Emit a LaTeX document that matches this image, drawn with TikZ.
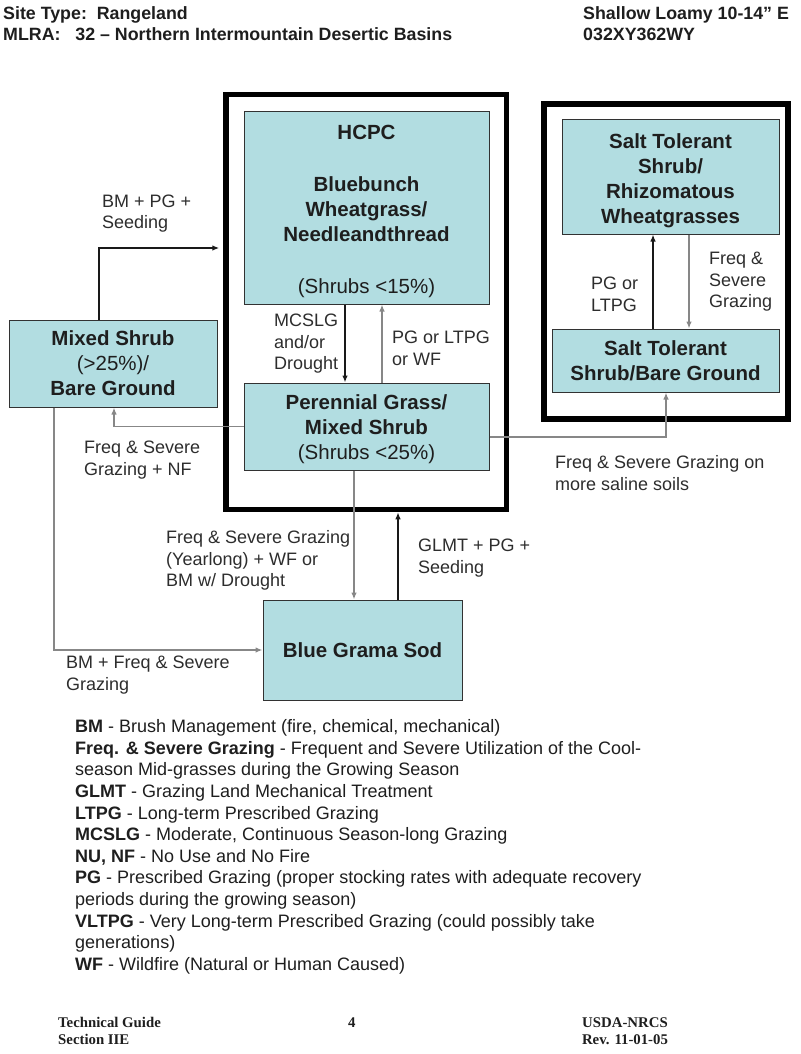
\documentclass[tikz,border=0pt]{standalone}
\usepackage{fontspec}
\setmainfont{Liberation Sans}
\newfontfamily\timesf{Liberation Serif}
\usetikzlibrary{arrows.meta}
\definecolor{boxfill}{RGB}{178,221,225}
\definecolor{boxline}{RGB}{50,50,50}
\definecolor{txt}{RGB}{30,30,30}
\definecolor{lbltxt}{RGB}{45,45,45}
\definecolor{darkline}{RGB}{25,25,25}
\definecolor{grayline}{RGB}{135,135,135}
\begin{document}
\begin{tikzpicture}[x=1pt,y=-1pt,
  statebox/.style={draw=boxline, fill=boxfill, line width=1pt, inner sep=0pt, align=center, text=txt,
    font=\fontsize{20.5}{25}\selectfont\bfseries},
  groupbox/.style={draw=black, line width=5.5pt, inner sep=0pt},
  lbl/.style={anchor=north west, inner sep=0pt, align=left, text=lbltxt, font=\fontsize{18}{21.5}\selectfont},
  hdr/.style={anchor=north west, inner sep=0pt, align=left, text=txt, font=\fontsize{17.8}{21}\selectfont\bfseries},
  ftr/.style={inner sep=0pt, text=txt, font=\fontsize{14.8}{17}\selectfont\timesf\bfseries},
  arr/.style={draw=darkline, line width=1.3pt, -{Latex[length=7pt,width=5.5pt]}},
  garr/.style={arr, draw=grayline}]
\useasboundingbox (0,0) rectangle (800,1054);

% header
\node[hdr] (hl) at (3,4.7) {\strut Site Type:\ \ Rangeland\\MLRA:\ \ \ 32 \textendash{} Northern Intermountain Desertic Basins};
\node[hdr] (hr) at (583,4.7) {\strut Shallow Loamy 10-14” E\\032XY362WY};

% group frames
\node[groupbox, minimum width=280.5pt, minimum height=415pt] (grp) at (366.25,302) {};
\node[groupbox, minimum width=244pt, minimum height=315pt] (sgrp) at (666,261.5) {};

% states
\node[statebox, minimum width=245pt, minimum height=192pt] (hcpc) at (366.5,208)
  {\rule{0pt}{22pt}HCPC\\[27pt]Bluebunch\\Wheatgrass/\\Needleandthread\\[27pt]\mdseries(Shrubs <15\%)};
\node[statebox, minimum width=245pt, minimum height=87pt] (pg) at (366.5,426.5)
  {\rule{0pt}{20pt}Perennial Grass/\\Mixed Shrub\\\mdseries(Shrubs <25\%)};
\node[statebox, minimum width=208pt, minimum height=87pt] (msh) at (113,363.5)
  {Mixed Shrub\\\mdseries(>25\%)/\\\bfseries Bare Ground};
\node[statebox, minimum width=199pt, minimum height=100pt] (bg) at (362.5,650) {Blue Grama Sod};
\node[statebox, minimum width=217pt, minimum height=114pt] (stt) at (670.5,177)
  {\rule{0pt}{23pt}Salt Tolerant\\Shrub/\\Rhizomatous\\Wheatgrasses};
\node[statebox, minimum width=227pt, minimum height=63pt] (stb) at (665.5,360.5)
  {Salt Tolerant\\Shrub/Bare Ground};

% connectors
\draw[arr, shorten >=4pt] (msh.north -| 99,0) |- (grp.west |- 0,248);
\draw[arr] (hcpc.south -| 345,0) -- (pg.north -| 345,0);
\draw[garr] (pg.north -| 382,0) -- (hcpc.south -| 382,0);
\draw[garr] (pg.west) -| (msh.south -| 114,0);
\draw[garr] (pg.east |- 0,437) -| (stb.south -| 666,0);
\draw[garr] (msh.south -| 54,0) |- (bg.west);
\draw[garr] (pg.south -| 354,0) -- (bg.north -| 354,0);
\draw[arr] (bg.north -| 398,0) -- (grp.south -| 398,0);
\draw[arr] (stb.north -| 653,0) -- (stt.south -| 653,0);
\draw[garr] (stt.south -| 689,0) -- (stb.north -| 689,0);

% labels
\node[lbl] (l1) at (102,192) {\strut BM + PG +\\Seeding};
\node[lbl] (l2) at (274,311.5) {\strut MCSLG\\and/or\\Drought};
\node[lbl] (l3) at (392,328.5) {\strut PG or LTPG\\or WF};
\node[lbl] (l4) at (84,438.5) {\strut Freq \& Severe\\Grazing + NF};
\node[lbl] (l5) at (555,453.5) {\strut Freq \& Severe Grazing on\\more saline soils};
\node[lbl] (l6) at (591,274.5) {\strut PG or\\LTPG};
\node[lbl] (l7) at (709,249.5) {\strut Freq \&\\Severe\\Grazing};
\node[lbl] (l8) at (166,528.5) {\strut Freq \& Severe Grazing\\(Yearlong) + WF or\\BM w/ Drought};
\node[lbl] (l9) at (418,536.5) {\strut GLMT + PG +\\Seeding};
\node[lbl] (l10) at (66,653.5) {\strut BM + Freq \& Severe\\Grazing};

% legend
\node[lbl, text=txt, font=\fontsize{18}{21.6}\selectfont] (leg) at (75,717.4) {\strut
\textbf{BM} - Brush Management (fire, chemical, mechanical)\\
\textbf{Freq. \& Severe Grazing} - Frequent and Severe Utilization of the Cool-\\
season Mid-grasses during the Growing Season\\
\textbf{GLMT} - Grazing Land Mechanical Treatment\\
\textbf{LTPG} - Long-term Prescribed Grazing\\
\textbf{MCSLG} - Moderate, Continuous Season-long Grazing\\
\textbf{NU, NF} - No Use and No Fire\\
\textbf{PG} - Prescribed Grazing (proper stocking rates with adequate recovery\\
periods during the growing season)\\
\textbf{VLTPG} - Very Long-term Prescribed Grazing (could possibly take\\
generations)\\
\textbf{WF} - Wildfire (Natural or Human Caused)};

% footer
\node[ftr, anchor=north west, align=left] (f1) at (58,1014.9) {\strut Technical Guide\\Section IIE};
\node[ftr, anchor=north west] (f2) at (348,1014.9) {\strut 4};
\node[ftr, anchor=north, align=center] (f3) at (625,1014.9) {\strut USDA-NRCS\\Rev. 11-01-05};
\end{tikzpicture}
\end{document}
